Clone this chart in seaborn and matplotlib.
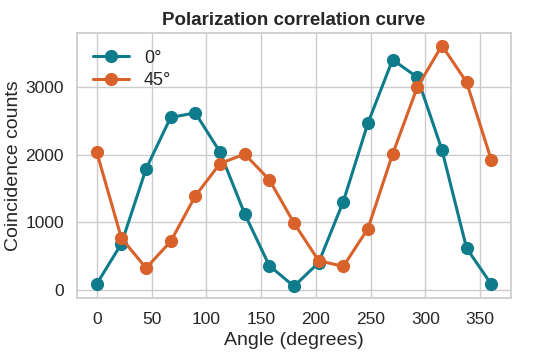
import numpy as np
import pandas as pd
import seaborn as sns
import matplotlib.pyplot as plt

# Polarizer angle (degrees) and coincidence counts for two settings
angles = [0, 22.5, 45, 67.5, 90, 112.5, 135, 157.5, 180,
          202.5, 225, 247.5, 270, 292.5, 315, 337.5, 360]
counts_0 = [85, 680, 1790, 2555, 2620, 2040, 1125, 355, 50,
            400, 1305, 2470, 3410, 3150, 2075, 615, 82]
counts_45 = [2040, 765, 320, 715, 1390, 1870, 2010, 1630, 988,
             430, 345, 905, 2010, 3000, 3620, 3077, 1926]
series = ["0°", "45°"]
colors = ["#0f7c8b", "#d9612a"]

df = pd.DataFrame({
    "angle": angles * 2,
    "counts": counts_0 + counts_45,
    "setting": [series[0]] * len(angles) + [series[1]] * len(angles),
})

sns.set_theme(style="whitegrid")
plt.rcParams["font.family"] = ["Liberation Sans", "DejaVu Sans"]
plt.rcParams["axes.edgecolor"] = "#cccccc"

fig, ax = plt.subplots(figsize=(5.5, 3.56), dpi=100)
sns.lineplot(data=df, x="angle", y="counts", hue="setting",
             palette=colors, marker="o", markersize=9.5, linewidth=2.2,
             markeredgewidth=0, ax=ax)

ax.set_title("Polarization correlation curve", fontsize=13.5, fontweight="bold")
ax.set_xlabel("Angle (degrees)", fontsize=14)
ax.set_ylabel("Coincidence counts", fontsize=14, labelpad=2)
ax.tick_params(labelsize=12.5)
ax.set_xticks([0, 50, 100, 150, 200, 250, 300, 350])
ax.set_yticks([0, 1000, 2000, 3000])
ax.legend(title=None, frameon=False, fontsize=13, loc="upper left",
          labelspacing=0.3)

fig.subplots_adjust(left=0.14, right=0.929, bottom=0.162, top=0.906)
plt.savefig("out.png", dpi=100)
